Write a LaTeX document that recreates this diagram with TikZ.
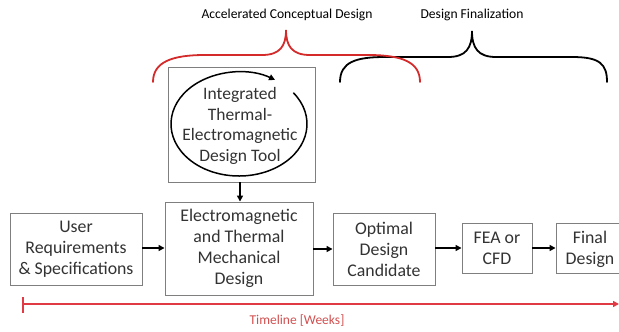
\documentclass[tikz,border=0pt]{standalone}
\usepackage{fontspec}
\setmainfont{Carlito}
\usetikzlibrary{arrows.meta}
\definecolor{boxline}{HTML}{7F7F7F}
\definecolor{txt}{HTML}{333333}
\definecolor{bred}{HTML}{D42A2A}
\definecolor{tred}{HTML}{E03A45}
\definecolor{lred}{HTML}{D05050}
\tikzset{
  stepbox/.style={draw=boxline, line width=0.9pt, fill=white, text=txt, align=center,
    font=\fontsize{17.8}{21}\selectfont, inner sep=0pt},
  flow/.style={-{Triangle[length=6pt,width=6pt]}, line width=1.8pt, black},
  brace/.style={line width=1.8pt, line cap=round},
  toplabel/.style={text=black, font=\fontsize{13.6}{15}\selectfont},
}
\begin{document}
\begin{tikzpicture}[x=1pt,y=-1pt]
\useasboundingbox (0,0) rectangle (619,332);
\begin{scope}
\clip (0,0) rectangle (619,332);
% braces
\draw[brace, black] (340,82) .. controls (340,62) and (356,57) .. (385,57) -- (448,57)
  .. controls (466,57) and (472,48) .. (472,31)
  .. controls (472,48) and (478,57) .. (496,57) -- (572,57)
  .. controls (600,57) and (607,64) .. (607,82);
\draw[brace, bred] (153,82) .. controls (153,62) and (172,55) .. (205,55) -- (262,55)
  .. controls (280,55) and (286,46) .. (286,30)
  .. controls (286,46) and (292,55) .. (310,55) -- (368,55)
  .. controls (402,55) and (420,62) .. (420,82);
\node[toplabel] (acd) at (287,15) {Accelerated Conceptual Design};
\node[toplabel] (dfin) at (472,15) {Design Finalization};
% boxes
\node[stepbox, minimum width=147pt, minimum height=115pt] (int) at (241.5,124.5) {};
\draw[line width=1.5pt, -{Triangle[length=6pt,width=6pt]}] (239,124) ++(37:68pt and 52pt)
  arc[start angle=37, end angle=-302, x radius=68pt, y radius=52pt];
\node[text=txt, align=center, font=\fontsize{17.5}{20.7}\selectfont] (intt) at (240,126)
  {Integrated\\Thermal-\\Electromagnetic\\Design Tool};
\node[stepbox, minimum width=132pt, minimum height=72pt] (user) at (76,249)
  {User\\Requirements\\\& Specifications};
\node[stepbox, minimum width=148pt, minimum height=93pt] (em) at (239,248.5)
  {Electromagnetic\\and Thermal\\Mechanical\\Design};
\node[stepbox, minimum width=102pt, minimum height=72pt] (opt) at (384,249)
  {Optimal\\Design\\Candidate};
\node[stepbox, minimum width=70pt, minimum height=50pt] (fea) at (497,248)
  {FEA or\\CFD};
\node[stepbox, minimum width=68pt, minimum height=50pt] (fin) at (590,248) {};
\node[text=txt, align=center, font=\fontsize{17.8}{21}\selectfont] (fint) at (590,249)
  {Final\\Design};
% connectors
\draw[flow] (user.east |- 0,248) -- (em.west |- 0,248);
\draw[flow] (em.east |- 0,249) -- (opt.west |- 0,249);
\draw[flow] (opt.east |- 0,248) -- (fea.west |- 0,248);
\draw[flow] (fea.east) -- (fin.west);
\draw[flow] (int.south -| 240,0) -- (em.north -| 240,0);
% timeline
\coordinate (t0) at (23,304);
\coordinate (t1) at (619,304);
\draw[tred, line width=1.8pt] (23,297) -- (23,313);
\draw[tred, line width=1.8pt, -{Triangle[length=6pt,width=6pt]}] (t0) -- (t1);
\node[text=lred, font=\fontsize{13.5}{15}\selectfont] (tl) at (297,321) {Timeline [Weeks]};
\end{scope}
\end{tikzpicture}
\end{document}
